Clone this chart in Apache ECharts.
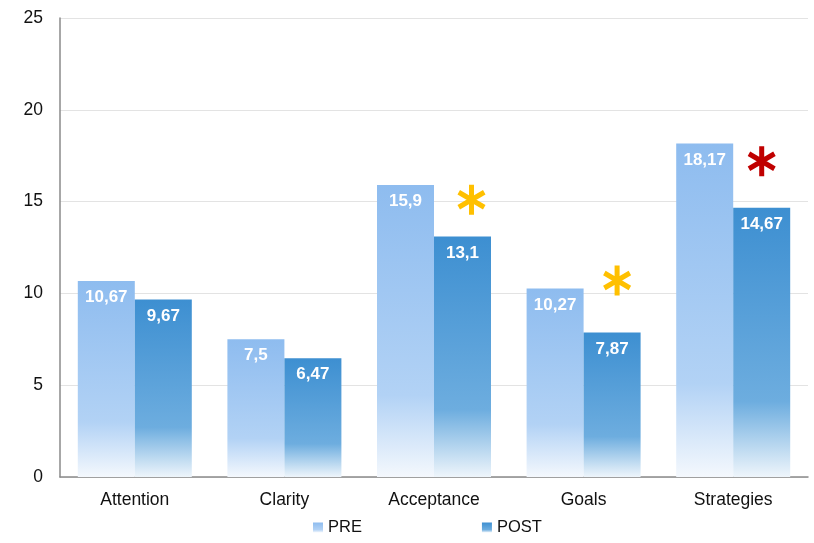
<!DOCTYPE html>
<html>
<head>
<meta charset="utf-8">
<script src="https://cdn.jsdelivr.net/npm/echarts@6/dist/echarts.min.js"></script>
<style>
  html, body { margin: 0; padding: 0; background: #fff; }
  #chart { width: 814px; height: 543px; }
</style>
</head>
<body>
<div id="chart"></div>
<script>
const categories = ['Attention', 'Clarity', 'Acceptance', 'Goals', 'Strategies']
const preValues = [10.67, 7.5, 15.9, 10.27, 18.17]
const postValues = [9.67, 6.47, 13.1, 7.87, 14.67]
// significance marks: category, height, colour
const markCategories = ['Acceptance', 'Goals', 'Strategies']
const markValues = [15.1, 10.7, 17.2]
const markColors = ['#FFC000', '#FFC000', '#C00000']
const markShift = [9, 5, 0]

const font = 'Liberation Sans, Arial, sans-serif'
const asterisk = 'path://M-0.17,-1L0.17,-1L0.17,1L-0.17,1Z' +
  'M0.781,-0.647L0.951,-0.353L-0.781,0.647L-0.951,0.353Z' +
  'M-0.951,-0.353L-0.781,-0.647L0.951,0.353L0.781,0.647Z'

const fmt = (v) => String(v).replace('.', ',')

const grad = (top, mid, bottom) => new echarts.graphic.LinearGradient(0, 0, 0, 1, [
  { offset: 0, color: top },
  { offset: 0.72, color: mid },
  { offset: 1, color: bottom }
])

const barLabel = {
  show: true,
  position: 'insideTop',
  distance: 8,
  color: '#fff',
  fontWeight: 'bold',
  fontSize: 17,
  fontFamily: font,
  formatter: (p) => fmt(p.value)
}

const myChart = echarts.init(document.getElementById('chart'))
myChart.setOption({
  animation: false,
  grid: { left: 60, right: 6, top: 18, bottom: 66 },
  legend: {
    left: 308,
    bottom: 2,
    itemGap: 120,
    icon: 'rect',
    itemWidth: 10,
    itemHeight: 10,
    itemStyle: { opacity: 1 },
    textStyle: { fontSize: 16.5, color: '#111', fontFamily: font },
    data: ['PRE', 'POST']
  },
  xAxis: {
    type: 'category',
    data: categories,
    axisLine: { lineStyle: { color: '#8a8a8a', width: 1.5 } },
    axisTick: { show: false },
    axisLabel: { color: '#111', fontSize: 17.5, fontFamily: font, margin: 14 }
  },
  yAxis: {
    type: 'value',
    min: 0,
    max: 25,
    interval: 5,
    axisLine: { show: true, lineStyle: { color: '#8a8a8a', width: 1.5 } },
    axisTick: { show: false },
    splitLine: { lineStyle: { color: '#e3e3e3' } },
    axisLabel: { color: '#111', fontSize: 17.5, fontFamily: font, margin: 17 }
  },
  series: [
    {
      name: 'PRE',
      type: 'bar',
      barWidth: 57,
      barGap: '0%',
      itemStyle: { color: grad('#8ebcef', '#b2d2f5', '#f4f8fd') },
      label: barLabel,
      data: preValues
    },
    {
      name: 'POST',
      type: 'bar',
      barWidth: 57,
      itemStyle: { color: grad('#3d8fd1', '#6daddf', '#eef5fb') },
      label: barLabel,
      data: postValues
    },
    {
      type: 'scatter',
      silent: true,
      symbol: asterisk,
      symbolSize: [28, 30],
      data: markCategories.map((c, i) => ({
        value: [c, markValues[i]],
        symbolOffset: [28.5 + markShift[i], 0],
        itemStyle: { color: markColors[i], opacity: 1 }
      }))
    }
  ]
})
</script>
</body>
</html>
